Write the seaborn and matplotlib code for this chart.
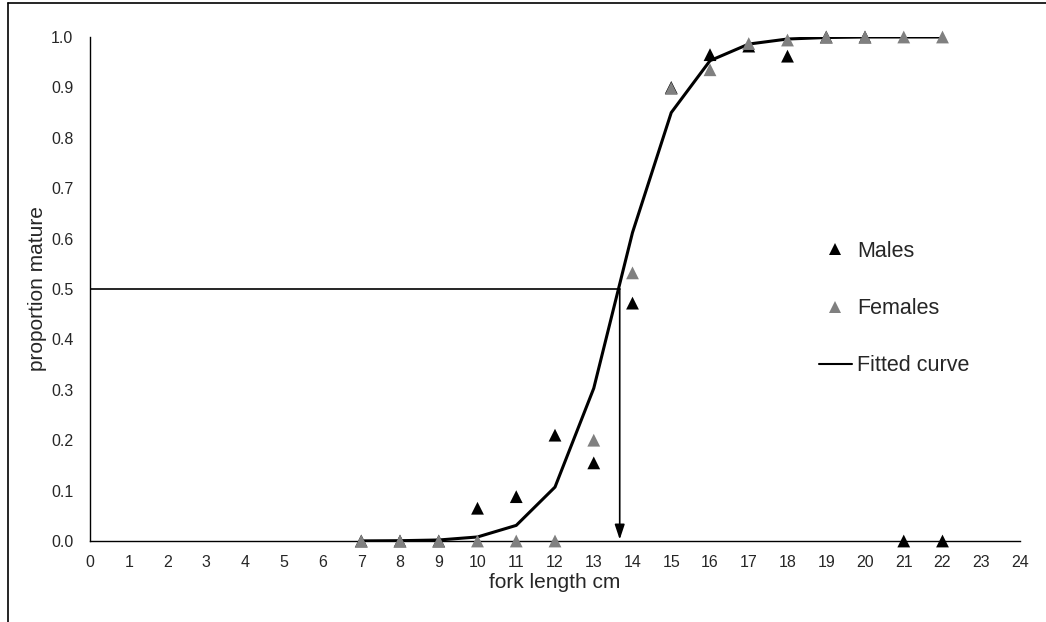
import matplotlib
matplotlib.use("Agg")
import matplotlib.pyplot as plt
import seaborn as sns
import pandas as pd
from matplotlib.lines import Line2D

# ---- data ----
male_len = [7, 8, 9, 10, 11, 12, 13, 14, 15, 16, 17, 18, 19, 20, 21, 22]
male_prop = [0.0, 0.0, 0.0, 0.065, 0.088, 0.21, 0.155, 0.472, 0.90, 0.965, 0.982, 0.962, 1.0, 1.0, 0.0, 0.0]

female_len = [7, 8, 9, 10, 11, 12, 13, 14, 15, 16, 17, 18, 19, 20, 21, 22]
female_prop = [0.0, 0.0, 0.0, 0.0, 0.0, 0.0, 0.20, 0.532, 0.898, 0.935, 0.987, 0.994, 1.0, 1.0, 1.0, 1.0]

fit_len = [7, 8, 9, 10, 11, 12, 13, 14, 15, 16, 17, 18, 19, 20, 21, 22]
fit_prop = [0.0002, 0.0006, 0.002, 0.008, 0.031, 0.107, 0.303, 0.612, 0.850, 0.953, 0.986, 0.996, 0.999, 1.0, 1.0, 1.0]

L50 = 13.67
x_ticks = list(range(0, 25))
y_ticks = [0.0, 0.1, 0.2, 0.3, 0.4, 0.5, 0.6, 0.7, 0.8, 0.9, 1.0]

sns.set_style("white")
plt.rcParams['font.family'] = ['Liberation Sans', 'DejaVu Sans']

fig = plt.figure(figsize=(10.46, 6.22), dpi=100)
ax = fig.add_axes([90/1046, 1 - 541/622, 930/1046, 504/622])

males = pd.DataFrame({"len": male_len, "prop": male_prop})
females = pd.DataFrame({"len": female_len, "prop": female_prop})
fit = pd.DataFrame({"len": fit_len, "prop": fit_prop})

sns.lineplot(data=fit, x="len", y="prop", color="black", linewidth=2.2, ax=ax, zorder=2)
sns.scatterplot(data=males, x="len", y="prop", marker="^", s=85, color="black",
                edgecolor="none", ax=ax, zorder=3, clip_on=False)
sns.scatterplot(data=females, x="len", y="prop", marker="^", s=85, color="#808080",
                edgecolor="none", ax=ax, zorder=4, clip_on=False)

# 50% maturity reference lines
ax.plot([0, L50], [0.5, 0.5], color="black", linewidth=1.2, zorder=1)
ax.annotate("", xy=(L50, 0.003), xytext=(L50, 0.5),
            arrowprops=dict(arrowstyle="-|>,head_length=0.9,head_width=0.3",
                            color="black", lw=1.2, shrinkA=0, shrinkB=0))

ax.set_xlim(0, 24)
ax.set_ylim(0, 1.0)
ax.set_xticks(x_ticks)
ax.set_xticklabels([str(t) for t in x_ticks], fontsize=11.5)
ax.set_yticks(y_ticks)
ax.set_yticklabels([f"{t:.1f}" for t in y_ticks], fontsize=11.5)
ax.tick_params(axis="both", direction="out", length=5, width=1, color="black")
ax.tick_params(axis="y", pad=7)
ax.tick_params(axis="x", pad=5)
for s in ["top", "right"]:
    ax.spines[s].set_visible(False)
for s in ["left", "bottom"]:
    ax.spines[s].set_color("black")
    ax.spines[s].set_linewidth(1)

ax.set_xlabel("fork length cm", fontsize=15, labelpad=2)
ax.set_ylabel("proportion mature", fontsize=15, labelpad=3)

handles = [
    Line2D([], [], marker="^", color="black", linestyle="none", markersize=8, markeredgewidth=0),
    Line2D([], [], marker="^", color="#808080", linestyle="none", markersize=8, markeredgewidth=0),
    Line2D([], [], color="black", linewidth=1.5),
]
ax.legend(handles, ["Males", "Females", "Fitted curve"], frameon=False, fontsize=15.5,
          loc="upper left", bbox_to_anchor=(819/1046, 1 - 241/622), bbox_transform=fig.transFigure,
          labelspacing=1.68, handlelength=1.53, handletextpad=0.23, borderpad=0, borderaxespad=0)

# outer chart frame (top and left edges visible)
fig.add_artist(Line2D([8/1046, 8/1046], [0, 1 - 3/622], transform=fig.transFigure, color="black", lw=1.2))
fig.add_artist(Line2D([8/1046, 1], [1 - 3/622, 1 - 3/622], transform=fig.transFigure, color="black", lw=1.2))

fig.savefig("out.png", dpi=100)
